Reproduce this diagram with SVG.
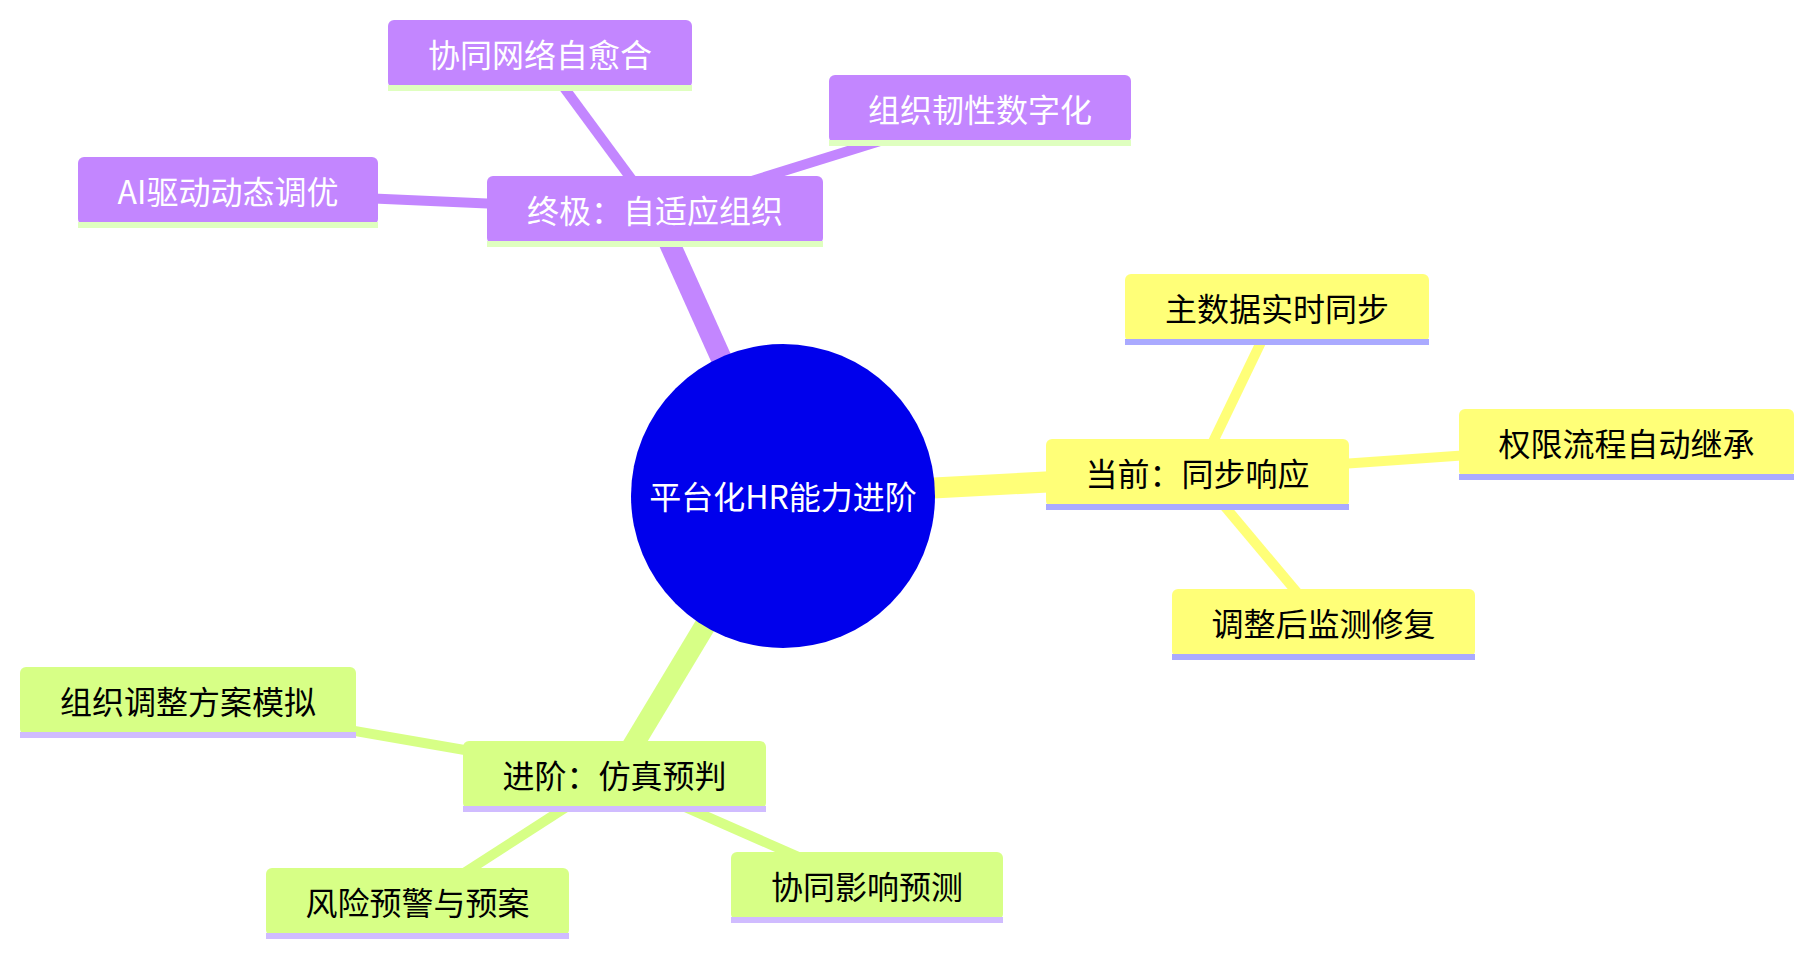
<svg xmlns="http://www.w3.org/2000/svg" width="1815" height="955" viewBox="0 0 1815 955">
<style>
  text { font-family: "Noto Sans CJK SC", "Noto Sans", sans-serif; font-size: 32px; text-anchor: middle; }
  .e0 { stroke-width: 21; fill: none; stroke-linecap: butt; }
  .e1 { stroke-width: 10; fill: none; stroke-linecap: butt; }
  .sy { stroke: #FFFF78; }
  .sg { stroke: #D7FF86; }
  .sp { stroke: #C386FF; }
  .ny rect.b { fill: #FFFF78; }
  .ny rect.u { fill: #AAAAFF; }
  .ny text { fill: #000000; }
  .ng rect.b { fill: #D7FF86; }
  .ng rect.u { fill: #D0BCFF; }
  .ng text { fill: #000000; }
  .np rect.b { fill: #C386FF; }
  .np rect.u { fill: #DFFFBF; }
  .np text { fill: #FFFFFF; }
</style>
<rect width="1815" height="955" fill="#FFFFFF"/>
<g id="connectors">
  <line class="e0 sp" x1="783" y1="496" x2="655" y2="211"/>
  <line class="e0 sy" x1="783" y1="496" x2="1197.5" y2="474"/>
  <line class="e0 sg" x1="783" y1="496" x2="614.5" y2="776"/>
  <line class="e1 sp" x1="655" y1="211" x2="540" y2="55"/>
  <line class="e1 sp" x1="655" y1="211" x2="980" y2="110"/>
  <line class="e1 sp" x1="655" y1="211" x2="227.5" y2="192"/>
  <line class="e1 sy" x1="1197.5" y1="474" x2="1277" y2="309"/>
  <line class="e1 sy" x1="1197.5" y1="474" x2="1626.5" y2="444"/>
  <line class="e1 sy" x1="1197.5" y1="474" x2="1323.5" y2="624"/>
  <line class="e1 sg" x1="614.5" y1="776" x2="188" y2="702"/>
  <line class="e1 sg" x1="614.5" y1="776" x2="417.5" y2="903"/>
  <line class="e1 sg" x1="614.5" y1="776" x2="867" y2="887"/>
</g>
<g id="root">
  <circle cx="783" cy="496" r="152" fill="#0000EC"/>
  <text x="783" y="509" fill="#FFFFFF">平台化HR能力进阶</text>
</g>
<g id="n-zhongji" class="np">
  <rect class="b" x="487" y="176" width="336" height="68" rx="6"/>
  <rect class="u" x="487" y="241" width="336" height="6"/>
  <text x="655" y="223">终极：自适应组织</text>
</g>
<g id="n-xietongwangluo" class="np">
  <rect class="b" x="388" y="20" width="304" height="68" rx="6"/>
  <rect class="u" x="388" y="85" width="304" height="6"/>
  <text x="540" y="67">协同网络自愈合</text>
</g>
<g id="n-renxing" class="np">
  <rect class="b" x="829" y="75" width="302" height="68" rx="6"/>
  <rect class="u" x="829" y="140" width="302" height="6"/>
  <text x="980" y="122">组织韧性数字化</text>
</g>
<g id="n-ai" class="np">
  <rect class="b" x="78" y="157" width="300" height="68" rx="6"/>
  <rect class="u" x="78" y="222" width="300" height="6"/>
  <text x="228" y="204">AI驱动动态调优</text>
</g>
<g id="n-dangqian" class="ny">
  <rect class="b" x="1046" y="439" width="303" height="68" rx="6"/>
  <rect class="u" x="1046" y="504" width="303" height="6"/>
  <text x="1197.5" y="486">当前：同步响应</text>
</g>
<g id="n-zhushuju" class="ny">
  <rect class="b" x="1125" y="274" width="304" height="68" rx="6"/>
  <rect class="u" x="1125" y="339" width="304" height="6"/>
  <text x="1277" y="321">主数据实时同步</text>
</g>
<g id="n-quanxian" class="ny">
  <rect class="b" x="1459" y="409" width="335" height="68" rx="6"/>
  <rect class="u" x="1459" y="474" width="335" height="6"/>
  <text x="1626.5" y="456">权限流程自动继承</text>
</g>
<g id="n-tiaozheng" class="ny">
  <rect class="b" x="1172" y="589" width="303" height="68" rx="6"/>
  <rect class="u" x="1172" y="654" width="303" height="6"/>
  <text x="1323.5" y="636">调整后监测修复</text>
</g>
<g id="n-jinjie" class="ng">
  <rect class="b" x="463" y="741" width="303" height="68" rx="6"/>
  <rect class="u" x="463" y="806" width="303" height="6"/>
  <text x="614.5" y="788">进阶：仿真预判</text>
</g>
<g id="n-moni" class="ng">
  <rect class="b" x="20" y="667" width="336" height="68" rx="6"/>
  <rect class="u" x="20" y="732" width="336" height="6"/>
  <text x="188" y="714">组织调整方案模拟</text>
</g>
<g id="n-fengxian" class="ng">
  <rect class="b" x="266" y="868" width="303" height="68" rx="6"/>
  <rect class="u" x="266" y="933" width="303" height="6"/>
  <text x="417.5" y="915">风险预警与预案</text>
</g>
<g id="n-yingxiang" class="ng">
  <rect class="b" x="731" y="852" width="272" height="68" rx="6"/>
  <rect class="u" x="731" y="917" width="272" height="6"/>
  <text x="867" y="899">协同影响预测</text>
</g>
</svg>
